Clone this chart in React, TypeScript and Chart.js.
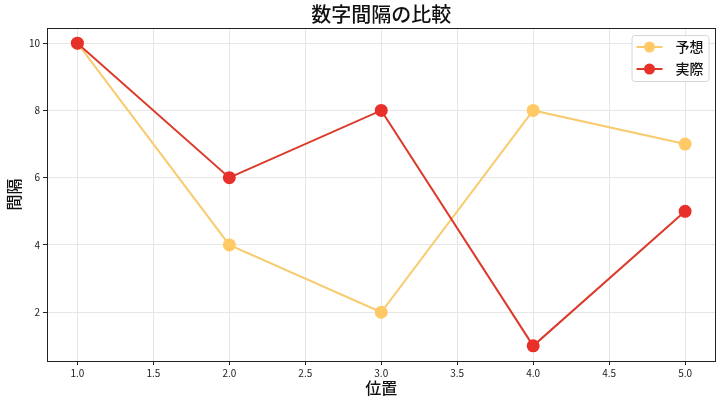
import React, { useEffect, useRef } from "react";
import { Chart, registerables } from "chart.js";

Chart.register(...registerables);

const TITLE = "数字間隔の比較";
const X_LABEL = "位置";
const Y_LABEL = "間隔";
const SERIES_NAMES = ["予想", "実際"];
const POSITIONS = [1, 2, 3, 4, 5];
const PREDICTED = [10, 4, 2, 8, 7];
const ACTUAL = [10, 6, 8, 1, 5];
const X_TICKS = [1.0, 1.5, 2.0, 2.5, 3.0, 3.5, 4.0, 4.5, 5.0];
const Y_TICKS = [2, 4, 6, 8, 10];

const FONT = "'Noto Sans CJK JP', 'Noto Sans', sans-serif";
const LINE_COLORS = ["#f8cb6e", "#dc3a2b"];
const POINT_COLORS = ["#ffc966", "#e8302a"];

const framePlugin = {
  id: "frameAndExtras",
  afterDraw(chart: any) {
    const { ctx, chartArea } = chart;
    ctx.save();
    // frame
    ctx.strokeStyle = "#222";
    ctx.lineWidth = 1;
    ctx.strokeRect(
      Math.round(chartArea.left) + 0.5,
      Math.round(chartArea.top) + 0.5,
      Math.round(chartArea.right - chartArea.left) - 1,
      Math.round(chartArea.bottom - chartArea.top)
    );
    // title
    ctx.fillStyle = "#111";
    ctx.font = `500 20px ${FONT}`;
    ctx.textAlign = "center";
    ctx.textBaseline = "middle";
    ctx.fillText(TITLE, (chartArea.left + chartArea.right) / 2, 14);
    // legend
    const bx = chartArea.right - 84;
    const by = chartArea.top + 7;
    const bw = 77;
    const bh = 46;
    ctx.fillStyle = "rgba(255,255,255,0.85)";
    ctx.strokeStyle = "#d6d6d6";
    ctx.lineWidth = 1;
    ctx.beginPath();
    (ctx as any).roundRect(bx + 0.5, by + 0.5, bw, bh, 3);
    ctx.fill();
    ctx.stroke();
    chart.data.datasets.forEach((ds: any, i: number) => {
      const y = by + 12 + i * 22;
      ctx.strokeStyle = ds.borderColor;
      ctx.lineWidth = 2;
      ctx.beginPath();
      ctx.moveTo(bx + 5, y);
      ctx.lineTo(bx + 31, y);
      ctx.stroke();
      ctx.fillStyle = ds.pointBackgroundColor;
      ctx.beginPath();
      ctx.arc(bx + 18, y, 5.5, 0, Math.PI * 2);
      ctx.fill();
      ctx.fillStyle = "#111";
      ctx.font = `500 14px ${FONT}`;
      ctx.textAlign = "left";
      ctx.textBaseline = "middle";
      ctx.fillText(ds.label, bx + 44, y);
    });
    ctx.restore();
  },
};

export default function App() {
  const ref = useRef<HTMLCanvasElement>(null);
  useEffect(() => {
    document.body.style.margin = "0";
    const chart = new Chart(ref.current!, {
      type: "line",
      data: {
        datasets: [
          {
            label: SERIES_NAMES[0],
            data: POSITIONS.map((x, i) => ({ x, y: PREDICTED[i] })),
            borderColor: LINE_COLORS[0],
            backgroundColor: POINT_COLORS[0],
            pointBackgroundColor: POINT_COLORS[0],
            pointBorderColor: POINT_COLORS[0],
            pointRadius: 5.5,
            borderWidth: 2,
            order: 2,
          },
          {
            label: SERIES_NAMES[1],
            data: POSITIONS.map((x, i) => ({ x, y: ACTUAL[i] })),
            borderColor: LINE_COLORS[1],
            backgroundColor: POINT_COLORS[1],
            pointBackgroundColor: POINT_COLORS[1],
            pointBorderColor: POINT_COLORS[1],
            pointRadius: 5.5,
            borderWidth: 2,
            order: 1,
          },
        ],
      },
      options: {
        responsive: false,
        animation: false,
        layout: { padding: { top: 28, right: 6, left: 0, bottom: 0 } },
        plugins: {
          legend: { display: false },
          title: { display: false },
          tooltip: { enabled: false },
        },
        scales: {
          x: {
            type: "linear",
            min: 0.8,
            max: 5.2,
            afterBuildTicks: (s: any) => {
              s.ticks = X_TICKS.map((v) => ({ value: v }));
            },
            afterFit: (s: any) => {
              s.height = 45;
            },
            ticks: {
              callback: (v: any) => Number(v).toFixed(1),
              font: { family: FONT, size: 10 },
              color: "#222",
              padding: 2,
              maxRotation: 0,
              autoSkip: false,
            },
            grid: {
              color: "#e6e6e6",
              tickColor: "#222",
              tickLength: 4,
            },
            border: { display: false },
            title: {
              display: true,
              text: X_LABEL,
              font: { family: FONT, size: 16, weight: "500" },
              color: "#111",
              padding: { top: 2, bottom: 8 },
            },
          },
          y: {
            min: 0.55,
            max: 10.45,
            afterBuildTicks: (s: any) => {
              s.ticks = Y_TICKS.map((v) => ({ value: v }));
            },
            afterFit: (s: any) => {
              s.width = 47;
            },
            ticks: {
              font: { family: FONT, size: 10 },
              color: "#222",
              padding: 3,
            },
            grid: {
              color: "#e6e6e6",
              tickColor: "#222",
              tickLength: 4,
            },
            border: { display: false },
            title: {
              display: true,
              text: Y_LABEL,
              font: { family: FONT, size: 16, weight: "500" },
              color: "#111",
              padding: { top: 4, bottom: 0 },
            },
          },
        },
      },
      plugins: [framePlugin],
    });
    return () => chart.destroy();
  }, []);
  return (
    <div style={{ width: 723, height: 406 }}>
      <canvas ref={ref} width={723} height={406} />
    </div>
  );
}
